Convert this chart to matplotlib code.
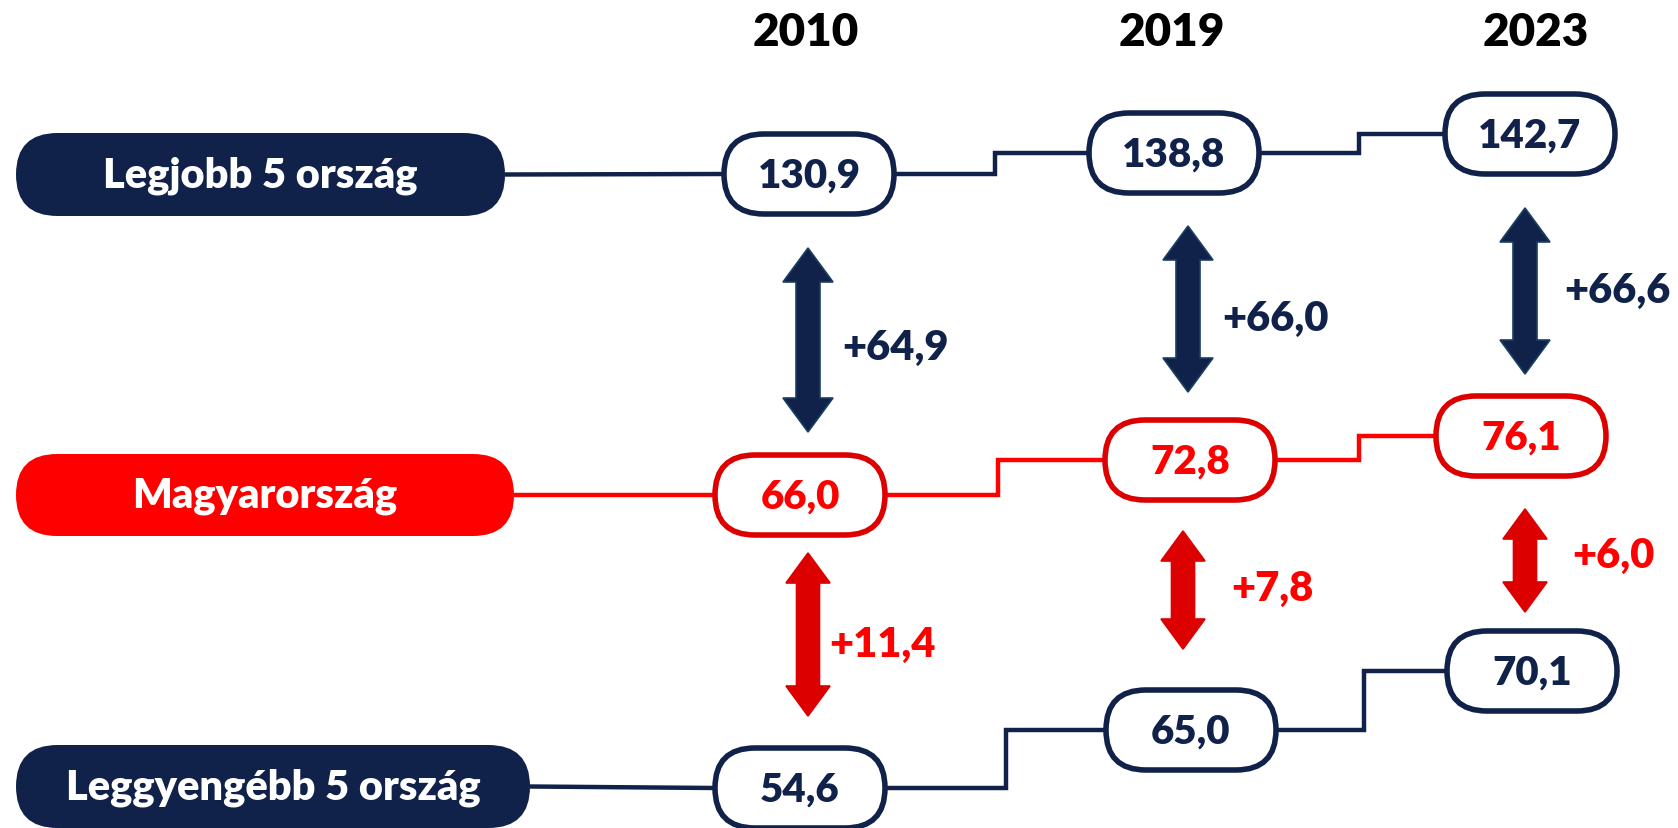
import matplotlib
matplotlib.use("Agg")
import matplotlib.pyplot as plt
from matplotlib.patches import FancyBboxPatch, Polygon

plt.rcParams['font.family'] = ['Lato', 'DejaVu Sans']

# ---- data ----
years = ["2010", "2019", "2023"]
row_labels = ["Legjobb 5 ország", "Magyarország", "Leggyengébb 5 ország"]
best5 = [130.9, 138.8, 142.7]
hungary = [66.0, 72.8, 76.1]
worst5 = [54.6, 65.0, 70.1]
gap_best = [64.9, 66.0, 66.6]
gap_worst = [11.4, 7.8, 6.0]

# ---- layout (pixel space) ----
W, H = 1678, 829
NAVY = "#10224A"
RED = "#FF0000"
DRED = "#DC0000"

fig = plt.figure(figsize=(W / 100, H / 100), dpi=100)
ax = fig.add_axes([0, 0, 1, 1])
ax.set_xlim(0, W)
ax.set_ylim(H, 0)
ax.axis("off")

year_x = [806, 1172, 1536]
row_cx = [[809, 1174, 1530], [800, 1190, 1521], [800, 1191, 1532]]
row_cy = [[175, 154, 135], [496, 461, 437], [789, 731, 672]]
step_x = [[995, 1359], [998, 1359], [1006, 1364]]
label_box = [(16, 505, 134, 217), (16, 514, 455, 537), (16, 530, 746, 829)]
row_fill = [NAVY, RED, NAVY]
row_line = [NAVY, RED, NAVY]
row_edge = [NAVY, DRED, NAVY]
row_text = [NAVY, RED, NAVY]
series = [best5, hungary, worst5]
PW, PH = 170, 80
WEIGHT = "heavy"


def fmt(v, plus=False):
    s = f"{v:.1f}".replace(".", ",")
    return ("+" + s) if plus else s


def pill(x0, x1, y0, y1, fc, ec, lw, z=3):
    h = y1 - y0
    p = FancyBboxPatch((x0, y0), x1 - x0, h,
                       boxstyle=f"round,pad=0,rounding_size={h/2}",
                       fc=fc, ec=ec, lw=lw, zorder=z)
    ax.add_patch(p)


for i in range(3):
    ax.text(year_x[i], 32, years[i], ha="center", va="center",
            fontsize=33, fontweight=WEIGHT, color="black")

for r in range(3):
    x0, x1, y0, y1 = label_box[r]
    pill(x0, x1, y0, y1, row_fill[r], "none", 0)
    lcy = (y0 + y1) / 2
    ax.text((x0 + x1) / 2, lcy, row_labels[r], ha="center", va="center",
            fontsize=30, fontweight=WEIGHT, color="white", zorder=4)
    cx, cy, sx = row_cx[r], row_cy[r], step_x[r]
    xs = [x1, cx[0] - PW / 2]
    ys = [lcy, cy[0]]
    ax.plot(xs, ys, color=row_line[r], lw=3.2, zorder=2, solid_capstyle="butt")
    for k in range(2):
        xs = [cx[k] + PW / 2, sx[k], sx[k], cx[k + 1] - PW / 2]
        ys = [cy[k], cy[k], cy[k + 1], cy[k + 1]]
        ax.plot(xs, ys, color=row_line[r], lw=3.2, zorder=2,
                solid_joinstyle="miter", solid_capstyle="butt")
    for k in range(3):
        pill(cx[k] - PW / 2, cx[k] + PW / 2, cy[k] - PH / 2, cy[k] + PH / 2,
             "white", row_edge[r], 4.0)
        ax.text(cx[k], cy[k] + 1, fmt(series[r][k]), ha="center", va="center",
                fontsize=29, fontweight=WEIGHT, color=row_text[r], zorder=4)


def darrow(x, y0, y1, color, ec, hw, hl, sw):
    pts = [(x, y0), (x + hw / 2, y0 + hl), (x + sw / 2, y0 + hl),
           (x + sw / 2, y1 - hl), (x + hw / 2, y1 - hl), (x, y1),
           (x - hw / 2, y1 - hl), (x - sw / 2, y1 - hl),
           (x - sw / 2, y0 + hl), (x - hw / 2, y0 + hl)]
    ax.add_patch(Polygon(pts, closed=True, fc=color, ec=ec, lw=1.2, zorder=3))


ba_x = [808, 1188, 1525]
ba_y = [(249, 433), (227, 393), (209, 375)]
bl_xy = [(842, 348), (1222, 319), (1564, 291)]
for k in range(3):
    darrow(ba_x[k], ba_y[k][0], ba_y[k][1], NAVY, "#1B3F63", 50, 34, 24)
    ax.text(bl_xy[k][0], bl_xy[k][1], fmt(gap_best[k], True), ha="left",
            va="center", fontsize=30, fontweight=WEIGHT, color=NAVY)

ra_x = [808, 1183, 1525]
ra_y = [(554, 717), (532, 650), (510, 613)]
rl_xy = [(829, 645), (1231, 589), (1572, 556)]
for k in range(3):
    darrow(ra_x[k], ra_y[k][0], ra_y[k][1], DRED, DRED, 44, 30, 23)
    ax.text(rl_xy[k][0], rl_xy[k][1], fmt(gap_worst[k], True), ha="left",
            va="center", fontsize=30, fontweight=WEIGHT, color=RED)

fig.savefig("out.png", dpi=100)
